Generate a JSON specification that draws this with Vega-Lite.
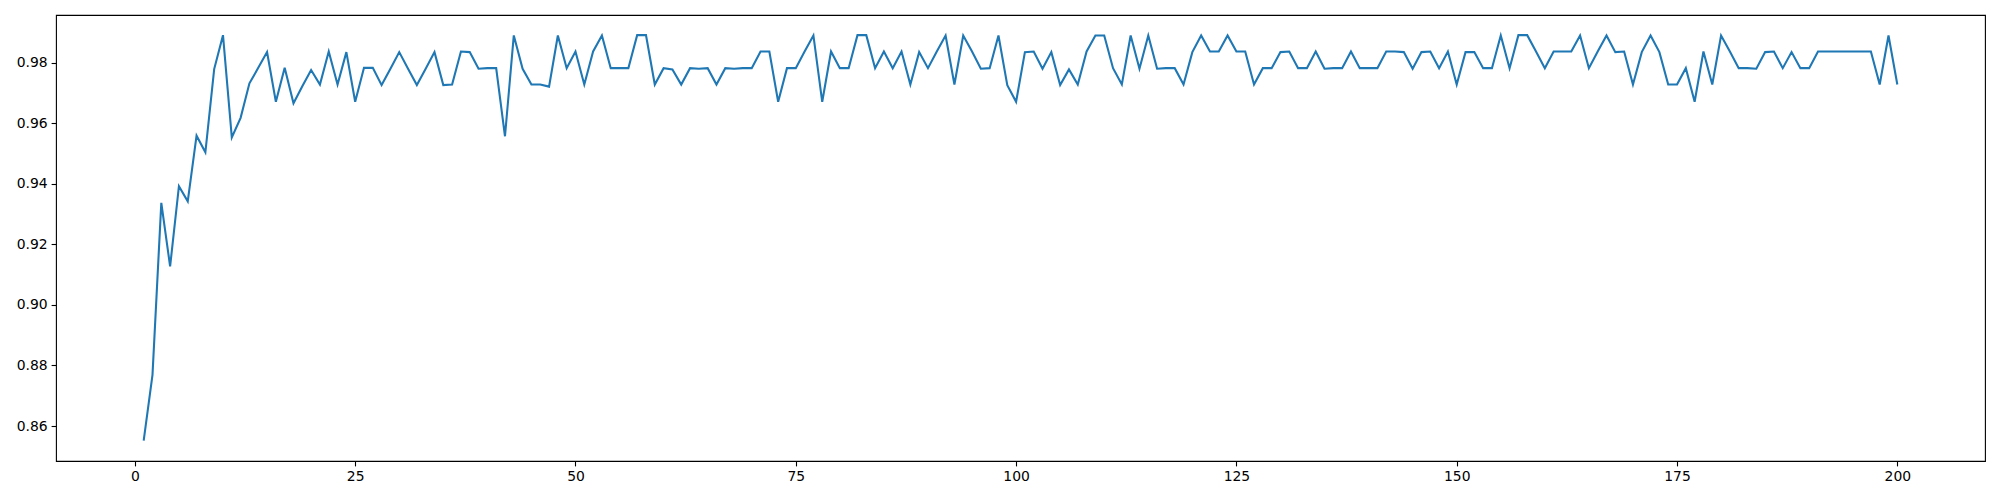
{
  "$schema": "https://vega.github.io/schema/vega-lite/v6.json",
  "autosize": {"type": "none"},
  "padding": {"left": 56, "top": 15, "right": 15, "bottom": 39},
  "width": 1929,
  "height": 446,
  "background": "white",
  "config": {
    "view": {"stroke": "black", "strokeWidth": 1.1},
    "axis": {
      "grid": false,
      "domain": false,
      "ticks": true,
      "tickColor": "black",
      "tickSize": 4.9,
      "tickWidth": 1.1,
      "labelFont": "DejaVu Sans",
      "labelFontSize": 13.9,
      "labelColor": "black",
      "labelPadding": 4,
      "title": null
    }
  },
  "data": {
    "values": [
      {"epoch":1,"acc":0.8552},{"epoch":2,"acc":0.8769},{"epoch":3,"acc":0.9337},{"epoch":4,"acc":0.9127},{"epoch":5,"acc":0.9392},
      {"epoch":6,"acc":0.9342},{"epoch":7,"acc":0.9559},{"epoch":8,"acc":0.9504},{"epoch":9,"acc":0.9779},{"epoch":10,"acc":0.9891},
      {"epoch":11,"acc":0.9553},{"epoch":12,"acc":0.9618},{"epoch":13,"acc":0.9732},{"epoch":14,"acc":0.9783},{"epoch":15,"acc":0.9835},
      {"epoch":16,"acc":0.9671},{"epoch":17,"acc":0.9783},{"epoch":18,"acc":0.9666},{"epoch":19,"acc":0.9722},{"epoch":20,"acc":0.9776},
      {"epoch":21,"acc":0.9728},{"epoch":22,"acc":0.9837},{"epoch":23,"acc":0.9728},{"epoch":24,"acc":0.9835},{"epoch":25,"acc":0.9671},
      {"epoch":26,"acc":0.9783},{"epoch":27,"acc":0.9783},{"epoch":28,"acc":0.9726},{"epoch":29,"acc":0.978},{"epoch":30,"acc":0.9835},
      {"epoch":31,"acc":0.978},{"epoch":32,"acc":0.9726},{"epoch":33,"acc":0.978},{"epoch":34,"acc":0.9835},{"epoch":35,"acc":0.9726},
      {"epoch":36,"acc":0.9728},{"epoch":37,"acc":0.9837},{"epoch":38,"acc":0.9835},{"epoch":39,"acc":0.978},{"epoch":40,"acc":0.9782},
      {"epoch":41,"acc":0.9782},{"epoch":42,"acc":0.9557},{"epoch":43,"acc":0.989},{"epoch":44,"acc":0.978},{"epoch":45,"acc":0.9728},
      {"epoch":46,"acc":0.9728},{"epoch":47,"acc":0.9721},{"epoch":48,"acc":0.989},{"epoch":49,"acc":0.9782},{"epoch":50,"acc":0.9837},
      {"epoch":51,"acc":0.9728},{"epoch":52,"acc":0.9837},{"epoch":53,"acc":0.989},{"epoch":54,"acc":0.9782},{"epoch":55,"acc":0.9782},
      {"epoch":56,"acc":0.9782},{"epoch":57,"acc":0.9891},{"epoch":58,"acc":0.9891},{"epoch":59,"acc":0.9728},{"epoch":60,"acc":0.9782},
      {"epoch":61,"acc":0.9778},{"epoch":62,"acc":0.9728},{"epoch":63,"acc":0.9782},{"epoch":64,"acc":0.978},{"epoch":65,"acc":0.9782},
      {"epoch":66,"acc":0.9728},{"epoch":67,"acc":0.9782},{"epoch":68,"acc":0.978},{"epoch":69,"acc":0.9782},{"epoch":70,"acc":0.9782},
      {"epoch":71,"acc":0.9837},{"epoch":72,"acc":0.9837},{"epoch":73,"acc":0.9671},{"epoch":74,"acc":0.9782},{"epoch":75,"acc":0.9782},
      {"epoch":76,"acc":0.9837},{"epoch":77,"acc":0.989},{"epoch":78,"acc":0.9671},{"epoch":79,"acc":0.9837},{"epoch":80,"acc":0.9782},
      {"epoch":81,"acc":0.9782},{"epoch":82,"acc":0.9891},{"epoch":83,"acc":0.9891},{"epoch":84,"acc":0.9782},{"epoch":85,"acc":0.9837},
      {"epoch":86,"acc":0.9782},{"epoch":87,"acc":0.9837},{"epoch":88,"acc":0.9728},{"epoch":89,"acc":0.9835},{"epoch":90,"acc":0.9782},
      {"epoch":91,"acc":0.9837},{"epoch":92,"acc":0.989},{"epoch":93,"acc":0.9728},{"epoch":94,"acc":0.989},{"epoch":95,"acc":0.9837},
      {"epoch":96,"acc":0.978},{"epoch":97,"acc":0.9782},{"epoch":98,"acc":0.989},{"epoch":99,"acc":0.9726},{"epoch":100,"acc":0.9671},
      {"epoch":101,"acc":0.9835},{"epoch":102,"acc":0.9837},{"epoch":103,"acc":0.978},{"epoch":104,"acc":0.9835},{"epoch":105,"acc":0.9726},
      {"epoch":106,"acc":0.9778},{"epoch":107,"acc":0.9728},{"epoch":108,"acc":0.9837},{"epoch":109,"acc":0.989},{"epoch":110,"acc":0.989},
      {"epoch":111,"acc":0.9782},{"epoch":112,"acc":0.9728},{"epoch":113,"acc":0.989},{"epoch":114,"acc":0.978},{"epoch":115,"acc":0.989},
      {"epoch":116,"acc":0.978},{"epoch":117,"acc":0.9782},{"epoch":118,"acc":0.9782},{"epoch":119,"acc":0.9728},{"epoch":120,"acc":0.9835},
      {"epoch":121,"acc":0.989},{"epoch":122,"acc":0.9837},{"epoch":123,"acc":0.9837},{"epoch":124,"acc":0.989},{"epoch":125,"acc":0.9837},
      {"epoch":126,"acc":0.9837},{"epoch":127,"acc":0.9728},{"epoch":128,"acc":0.9782},{"epoch":129,"acc":0.9782},{"epoch":130,"acc":0.9835},
      {"epoch":131,"acc":0.9837},{"epoch":132,"acc":0.9782},{"epoch":133,"acc":0.9782},{"epoch":134,"acc":0.9837},{"epoch":135,"acc":0.978},
      {"epoch":136,"acc":0.9782},{"epoch":137,"acc":0.9782},{"epoch":138,"acc":0.9837},{"epoch":139,"acc":0.9782},{"epoch":140,"acc":0.9782},
      {"epoch":141,"acc":0.9782},{"epoch":142,"acc":0.9837},{"epoch":143,"acc":0.9837},{"epoch":144,"acc":0.9835},{"epoch":145,"acc":0.978},
      {"epoch":146,"acc":0.9835},{"epoch":147,"acc":0.9837},{"epoch":148,"acc":0.9782},{"epoch":149,"acc":0.9837},{"epoch":150,"acc":0.9728},
      {"epoch":151,"acc":0.9835},{"epoch":152,"acc":0.9835},{"epoch":153,"acc":0.9782},{"epoch":154,"acc":0.9782},{"epoch":155,"acc":0.989},
      {"epoch":156,"acc":0.9782},{"epoch":157,"acc":0.9891},{"epoch":158,"acc":0.9891},{"epoch":159,"acc":0.9837},{"epoch":160,"acc":0.9782},
      {"epoch":161,"acc":0.9837},{"epoch":162,"acc":0.9837},{"epoch":163,"acc":0.9837},{"epoch":164,"acc":0.989},{"epoch":165,"acc":0.9782},
      {"epoch":166,"acc":0.9837},{"epoch":167,"acc":0.989},{"epoch":168,"acc":0.9835},{"epoch":169,"acc":0.9837},{"epoch":170,"acc":0.9728},
      {"epoch":171,"acc":0.9835},{"epoch":172,"acc":0.989},{"epoch":173,"acc":0.9835},{"epoch":174,"acc":0.9728},{"epoch":175,"acc":0.9728},
      {"epoch":176,"acc":0.9782},{"epoch":177,"acc":0.9671},{"epoch":178,"acc":0.9837},{"epoch":179,"acc":0.9728},{"epoch":180,"acc":0.989},
      {"epoch":181,"acc":0.9837},{"epoch":182,"acc":0.9782},{"epoch":183,"acc":0.9782},{"epoch":184,"acc":0.978},{"epoch":185,"acc":0.9835},
      {"epoch":186,"acc":0.9837},{"epoch":187,"acc":0.9782},{"epoch":188,"acc":0.9835},{"epoch":189,"acc":0.9782},{"epoch":190,"acc":0.9782},
      {"epoch":191,"acc":0.9837},{"epoch":192,"acc":0.9837},{"epoch":193,"acc":0.9837},{"epoch":194,"acc":0.9837},{"epoch":195,"acc":0.9837},
      {"epoch":196,"acc":0.9837},{"epoch":197,"acc":0.9837},{"epoch":198,"acc":0.9728},{"epoch":199,"acc":0.989},{"epoch":200,"acc":0.9728}
    ]
  },
  "mark": {"type": "line", "color": "#1f77b4", "strokeWidth": 2.08, "clip": true},
  "encoding": {
    "x": {
      "field": "epoch",
      "type": "quantitative",
      "scale": {"domain": [-8.95, 209.95], "nice": false, "zero": false},
      "axis": {"values": [0, 25, 50, 75, 100, 125, 150, 175, 200], "format": "d"}
    },
    "y": {
      "field": "acc",
      "type": "quantitative",
      "scale": {"domain": [0.84844, 0.99576], "nice": false, "zero": false},
      "axis": {"values": [0.86, 0.88, 0.9, 0.92, 0.94, 0.96, 0.98], "format": ".2f"}
    }
  }
}
